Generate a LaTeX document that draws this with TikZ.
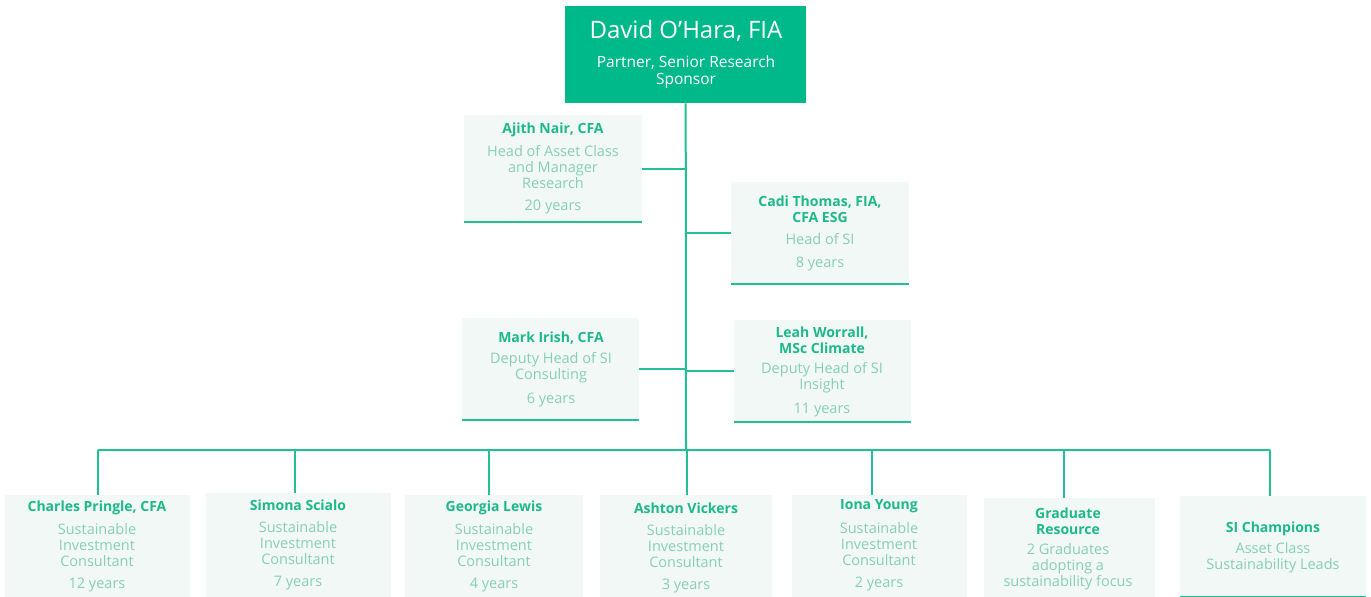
\documentclass[tikz,border=0pt]{standalone}
\usepackage{fontspec}
\setmainfont{Open Sans}
\definecolor{topgreen}{HTML}{00B98B}
\definecolor{namegreen}{HTML}{1DB98A}
\definecolor{rolegray}{HTML}{86CFB8}
\definecolor{boxfill}{HTML}{F2F8F6}
\definecolor{linegreen}{HTML}{22C095}
\tikzset{
  cardbox/.style={draw=none, fill=boxfill, inner sep=0pt, anchor=north west},
  nm/.style={text=namegreen, font=\fontsize{14}{16}\selectfont\bfseries, inner sep=0pt, align=center, yshift=-1.5pt},
  rl/.style={text=rolegray, font=\fontsize{14.5}{16}\selectfont, inner sep=0pt, align=center},
  yr/.style={rl, yshift=-2pt},
  ln/.style={draw=linegreen, line width=2pt},
  uline/.style={draw=linegreen, line width=2pt},
}
\begin{document}
\begin{tikzpicture}[x=1pt,y=-1pt]
\useasboundingbox (0,0) rectangle (1371,597);
% top box
\node[fill=topgreen, inner sep=0pt, minimum width=241pt, minimum height=97pt, anchor=north west] (david) at (565,6) {};
\node[text=white, font=\fontsize{24}{28}\selectfont, inner sep=0pt] (davidn) at (686,31) {David O’Hara, FIA};
\node[text=white, font=\fontsize{15.5}{18}\selectfont, inner sep=0pt, align=center] (davidr) at (686,72) {Partner, Senior Research\\[-1pt]Sponsor};

% middle cards
\node[cardbox, minimum width=178pt, minimum height=107pt] (ajith) at (464,115) {};
\node[nm] (ajithn) at (553,128) {Ajith Nair, CFA};
\node[rl] (ajithr) at (553,167) {Head of Asset Class\\and Manager\\Research};
\node[yr] (ajithy) at (553,205) {20 years};
\draw[uline] (ajith.south west) -- (ajith.south east);

\node[cardbox, minimum width=178pt, minimum height=102pt] (cadi) at (731,182) {};
\node[nm] (cadin) at (820,208) {Cadi Thomas, FIA,\\CFA ESG};
\node[rl] (cadir) at (820,239) {Head of SI};
\node[yr] (cadiy) at (820,262) {8 years};
\draw[uline] (cadi.south west) -- (cadi.south east);

\node[cardbox, minimum width=177pt, minimum height=102pt] (mark) at (462,318) {};
\node[nm] (markn) at (551,337) {Mark Irish, CFA};
\node[rl] (markr) at (551,368) {Deputy Head of SI\\Consulting};
\node[yr] (marky) at (551,398) {6 years};
\draw[uline] (mark.south west) -- (mark.south east);

\node[cardbox, minimum width=177pt, minimum height=102pt] (leah) at (734,320) {};
\node[nm] (leahn) at (822,339) {Leah Worrall,\\MSc Climate};
\node[rl] (leahr) at (822,378) {Deputy Head of SI\\Insight};
\node[yr] (leahy) at (822,408) {11 years};
\draw[uline] (leah.south west) -- (leah.south east);

% trunk
\coordinate (bus) at (686,450);
\draw[ln] (david.south) -- (bus);
\draw[ln] (ajith.east) -- (ajith.east -| bus);
\draw[ln] (cadi.west) -- (cadi.west -| bus);
\draw[ln] (mark.east) -- (mark.east -| bus);
\draw[ln] (leah.west) -- (leah.west -| bus);

% bottom cards
\node[cardbox, minimum width=185pt, minimum height=102pt] (charles) at (5,495) {};
\node[nm] (charlesn) at (97,506) {Charles Pringle, CFA};
\node[rl] (charlesr) at (97,545) {Sustainable\\Investment\\Consultant};
\node[yr] (charlesy) at (97,583) {12 years};

\node[cardbox, minimum width=185pt, minimum height=104pt] (simona) at (206,493) {};
\node[nm] (simonan) at (298,504) {Simona Scialo};
\node[rl] (simonar) at (298,543) {Sustainable\\Investment\\Consultant};
\node[yr] (simonay) at (298,581) {7 years};

\node[cardbox, minimum width=178pt, minimum height=102pt] (georgia) at (405,495) {};
\node[nm] (georgian) at (494,506) {Georgia Lewis};
\node[rl] (georgiar) at (494,545) {Sustainable\\Investment\\Consultant};
\node[yr] (georgiay) at (494,583) {4 years};

\node[cardbox, minimum width=172pt, minimum height=102pt] (ashton) at (600,495) {};
\node[nm] (ashtonn) at (686,507) {Ashton Vickers};
\node[rl] (ashtonr) at (686,546) {Sustainable\\Investment\\Consultant};
\node[yr] (ashtony) at (686,584) {3 years};

\node[cardbox, minimum width=175pt, minimum height=102pt] (iona) at (792,495) {};
\node[nm] (ionan) at (879,505) {Iona Young};
\node[rl] (ionar) at (879,544) {Sustainable\\Investment\\Consultant};
\node[yr] (ionay) at (879,582) {2 years};

\node[cardbox, minimum width=171pt, minimum height=99pt] (grad) at (984,498) {};
\node[nm] (gradn) at (1068,520) {Graduate\\Resource};
\node[rl] (gradr) at (1068,567) {2 Graduates\\adopting a\\sustainability focus};

\node[cardbox, minimum width=186pt, minimum height=100pt] (si) at (1180,496) {};
\node[nm] (sin) at (1273,527) {SI Champions};
\node[rl] (sir) at (1273,558) {Asset Class\\Sustainability Leads};
\draw[uline] ([yshift=-1pt]si.south west) -- ([yshift=-1pt]si.south east);

% bus and drops
\coordinate (d1) at (98,450);
\coordinate (d2) at (295,450);
\coordinate (d3) at (489,450);
\coordinate (d4) at (687,450);
\coordinate (d5) at (872,450);
\coordinate (d6) at (1064,450);
\coordinate (d7) at (1270,450);
\draw[ln] (d1) -- (d7);
\draw[ln] (d1) -- (d1 |- charles.north);
\draw[ln] (d2) -- (d2 |- simona.north);
\draw[ln] (d3) -- (d3 |- georgia.north);
\draw[ln] (d4) -- (d4 |- ashton.north);
\draw[ln] (d5) -- (d5 |- iona.north);
\draw[ln] (d6) -- (d6 |- grad.north);
\draw[ln] (d7) -- (d7 |- si.north);
\end{tikzpicture}
\end{document}
